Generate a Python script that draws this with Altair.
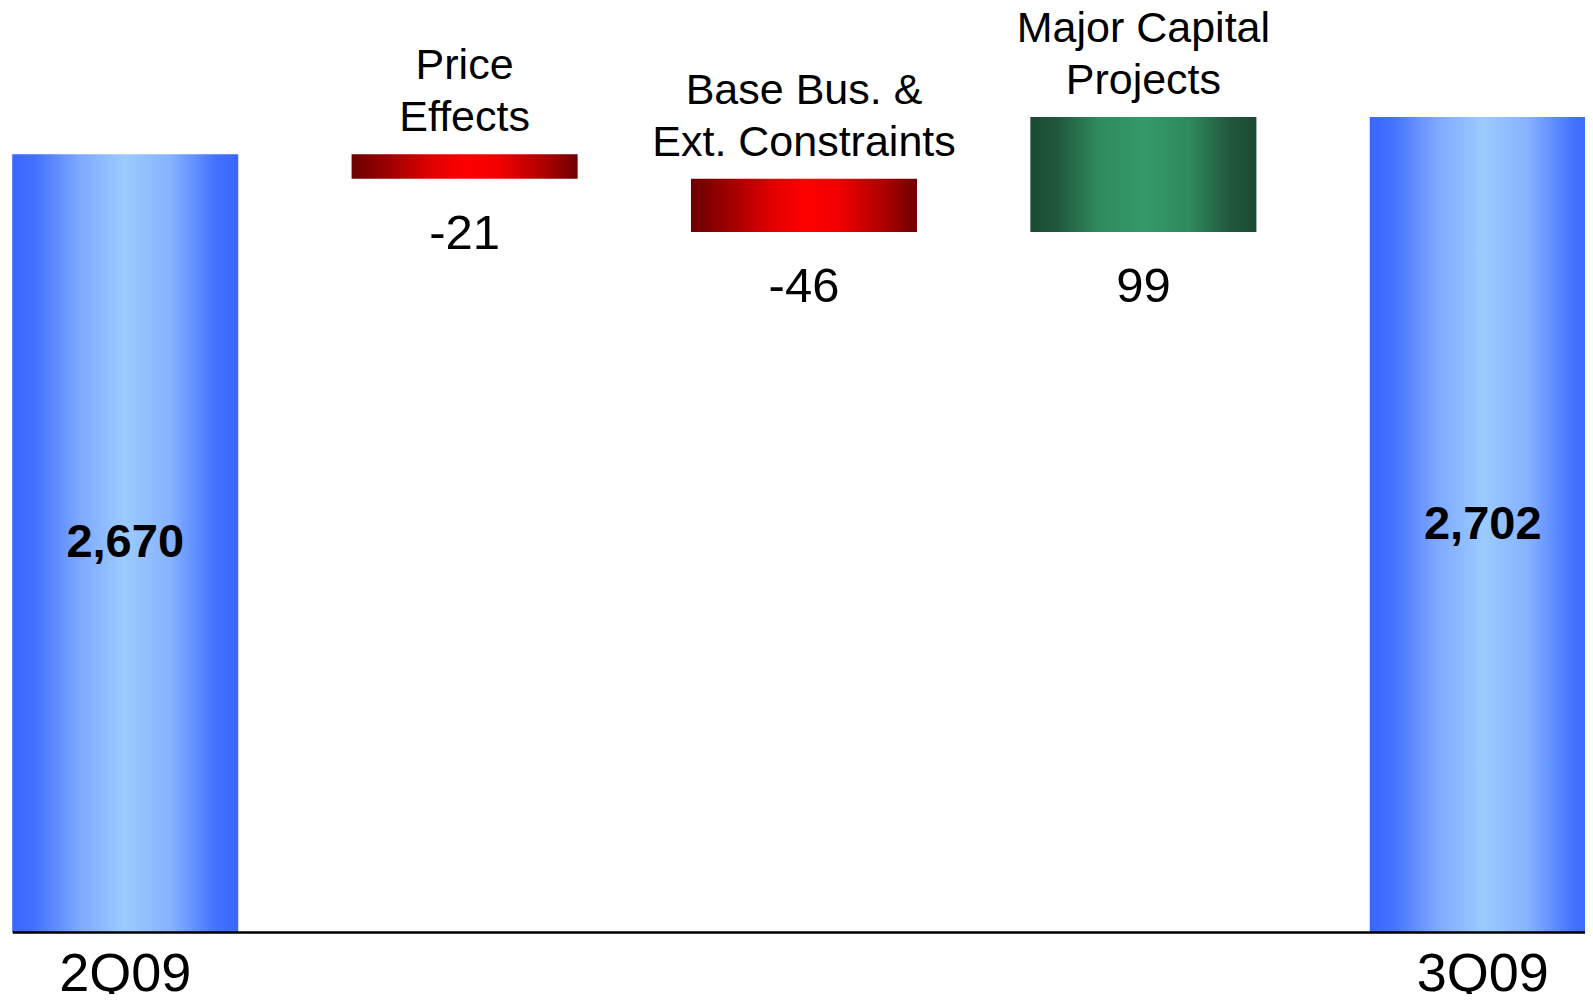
import altair as alt
import pandas as pd

# ---- data ----
categories = ["2Q09", "Price Effects", "Base Bus. & Ext. Constraints",
              "Major Capital Projects", "3Q09"]
top_labels = ["", "Price\nEffects", "Base Bus. &\nExt. Constraints",
              "Major Capital\nProjects", ""]
values = [2670, -21, -46, 99, 2702]
kinds = ["total", "neg", "neg", "pos", "total"]

AXIS_MIN = 2000  # the value axis is truncated at 2,000
AXIS_MAX = 2796

rows = []
running = 0
for cat, lab, v, k in zip(categories, top_labels, values, kinds):
    if k == "total":
        start, end = AXIS_MIN, v
        running = v
    else:
        start, end = running, running + v
        running = running + v
    rows.append({
        "cat": cat, "toplabel": lab, "value": v, "kind": k,
        "start": start, "end": end,
        "hi": max(start, end), "lo": min(start, end),
        "mid": (start + end) / 2,
        "vlabel": f"{v:,}",
    })
df = pd.DataFrame(rows)

FONT = "Liberation Sans"


def grad(stops):
    return alt.LinearGradient(
        gradient="linear",
        stops=[alt.GradientStop(offset=o, color=c) for o, c in stops],
        x1=0, x2=1, y1=0, y2=0,
    )


blue = grad([(0, "#3a66ff"), (0.1, "#4272ff"), (0.3, "#7fa9ff"),
             (0.5, "#9ccbff"), (0.7, "#86b2ff"), (0.9, "#4272ff"), (1, "#3a66ff")])
red = grad([(0, "#6c0000"), (0.15, "#990000"), (0.35, "#e00000"),
            (0.5, "#ff0000"), (0.65, "#f20000"), (0.85, "#b00000"), (1, "#6c0000")])
green = grad([(0, "#1b4a33"), (0.12, "#21583d"), (0.3, "#2f8a5d"),
              (0.5, "#349a68"), (0.7, "#2f8a5d"), (0.88, "#21583d"), (1, "#1b4a33")])

x = alt.X(
    "cat:N",
    sort=categories,
    scale=alt.Scale(domain=categories, range=[4.2, 1587.8],
                    paddingInner=0.334, paddingOuter=0),
    axis=alt.Axis(
        title=None, ticks=False, tickSize=0, grid=False,
        domain=True, domainColor="#000000", domainWidth=2.5,
        labelExpr="(datum.value == '2Q09' || datum.value == '3Q09') ? datum.value : ''",
        labelFont=FONT, labelFontSize=54, labelColor="#000000",
        labelPadding=15, labelAngle=0, labelOverlap=False, labelFlush=False,
        zindex=1,
    ),
)
yscale = alt.Scale(domain=[AXIS_MIN, AXIS_MAX], nice=False, zero=False)

base = alt.Chart(df)

bars_total = base.transform_filter("datum.kind == 'total'").mark_bar(
    color=blue, clip=True
).encode(x=x, y=alt.Y("start:Q", scale=yscale, axis=None), y2="end:Q")

bars_neg = base.transform_filter("datum.kind == 'neg'").mark_bar(
    color=red
).encode(x=x, y=alt.Y("start:Q", scale=yscale, axis=None), y2="end:Q")

bars_pos = base.transform_filter("datum.kind == 'pos'").mark_bar(
    color=green
).encode(x=x, y=alt.Y("start:Q", scale=yscale, axis=None), y2="end:Q")

top_text = base.transform_filter("datum.kind != 'total'").mark_text(
    font=FONT, fontSize=43, lineHeight=52, lineBreak="\n",
    align="center", baseline="bottom", dy=-66, color="#000000",
).encode(x=x, y=alt.Y("hi:Q", scale=yscale, axis=None), text="toplabel:N")

delta_text = base.transform_filter("datum.kind != 'total'").mark_text(
    font=FONT, fontSize=49, align="center", baseline="top", dy=31,
    color="#000000",
).encode(x=x, y=alt.Y("lo:Q", scale=yscale, axis=None), text="vlabel:N")

total_text = base.transform_filter("datum.kind == 'total'").mark_text(
    font=FONT, fontSize=47, fontWeight="bold", align="center",
    baseline="middle", color="#000000",
).encode(x=x, y=alt.Y("mid:Q", scale=yscale, axis=None), text="vlabel:N")

chart = alt.layer(
    bars_total, bars_neg, bars_pos, top_text, delta_text, total_text
).properties(
    width=1577, height=924, background="#ffffff",
    autosize=alt.AutoSizeParams(type="none"),
    padding={"left": 0, "top": 0, "right": 0, "bottom": 62},
).configure_view(stroke=None)

chart.save("out.html", embed_options={"renderer": "svg", "actions": False})
